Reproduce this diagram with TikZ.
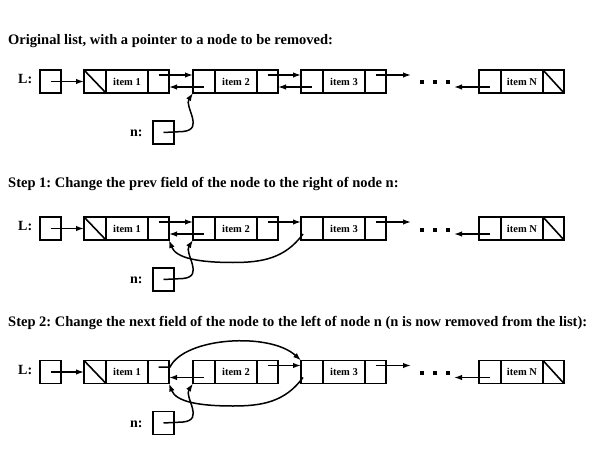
\documentclass[tikz,border=0pt]{standalone}
\usepackage{fontspec}
\setmainfont{Liberation Serif}
\usetikzlibrary{arrows.meta,positioning}
\frenchspacing

% one list node: prev | item | next
\newcommand{\dllnode}[3]{%
  \node[cell, minimum width=22pt] (#1p) at (#2,0) {};
  \node[itemcell, right=0pt of #1p] (#1d) {#3};
  \node[cell, minimum width=21pt, right=0pt of #1d] (#1n) {};
}

% what every row has in common
\newcommand{\listbase}{%
  \node[lbl, anchor=base west] (Llbl) at (18,2) {L:};
  \node[cell, minimum width=21pt] (L) at (40,0) {};
  \dllnode{1}{84}{item 1}
  \dllnode{2}{193}{item 2}
  \dllnode{3}{301}{item 3}
  \dllnode{N}{479}{item N}
  \draw[line width=1.6pt] (1p.north west) -- (1p.south east);
  \draw[line width=1.6pt] (Nn.north west) -- (Nn.south east);
  \foreach \x in {422,435,448} \fill (\x-2,-1) rectangle (\x+2,3);
  \coordinate (toDots) at (411,-6.5);
  \coordinate (fromDots) at (454,5.5);
  \node[lbl, anchor=base west] (nlbl) at (130,55) {n:};
  \node[cell, minimum width=21pt] (n) at (153,51) {};
  \draw[ptr] (L.center) -- (1p.west);
  \draw[ptr] ([yshift=-5.5pt]2p.center) -- ([yshift=-5.5pt]1n.east);
  \draw[ptr] ([yshift=6.5pt]2n.center) -- ([yshift=6.5pt]3p.west);
  \draw[ptr] ([yshift=6.5pt]3n.center) -- (toDots);
  \draw[ptr] ([yshift=-5.5pt]Np.center) -- (fromDots);
  \draw[ptr] (n.center) -- (183,50) .. controls (205,48) and (184,25) .. (2p.south west);
}

\begin{document}
\begin{tikzpicture}[
    x=1pt, y=-1pt,
    cell/.style={draw, line width=1.6pt, minimum height=23pt, inner sep=0pt, outer sep=0pt, anchor=west},
    itemcell/.style={cell, minimum width=42pt, font=\bfseries\fontsize{10.5}{12}\selectfont},
    lbl/.style={inner sep=0pt, font=\bfseries\fontsize{14}{16}\selectfont},
    title/.style={inner sep=0pt, anchor=base west, font=\bfseries\fontsize{14.5}{16}\selectfont},
    ptr/.style={line width=1.5pt, -{Latex[length=8pt,width=5.5pt]}}
  ]
  \useasboundingbox (0,0) rectangle (599,457);

  \node[title] (t0) at (8,45) {Original list, with a pointer to a node to be removed:};
  \begin{scope}[shift={(0,81.5)}, name prefix=a-]
    \listbase
    \draw[ptr] ([yshift=6.5pt]1n.center) -- ([yshift=6.5pt]2p.west);
    \draw[ptr] ([yshift=-5.5pt]3p.center) -- ([yshift=-5.5pt]2n.east);
  \end{scope}

  \node[title] (t1) at (8,187) {Step 1: Change the prev field of the node to the right of node n:};
  \begin{scope}[shift={(0,228.5)}, name prefix=b-]
    \listbase
    \draw[ptr] ([yshift=6.5pt]1n.center) -- ([yshift=6.5pt]2p.west);
    \draw[ptr] ([xshift=2pt,yshift=-5.5pt]3p.west) .. controls (285,30) and (262,34) .. (233,34)
      .. controls (200,34) and (176,30) .. (1n.south east);
  \end{scope}

  \node[title] (t2) at (8,326) {Step 2: Change the next field of the node to the left of node n (n is now removed from the list):};
  \begin{scope}[shift={(0,372)}, name prefix=c-]
    \listbase
    \draw[ptr] ([yshift=5pt]1n.center) -- (170,-5) .. controls (185,-35) and (270,-40) .. (3p.north west);
    \draw[ptr] ([xshift=2pt,yshift=-5.5pt]3p.west) .. controls (285,30) and (262,34) .. (233,34)
      .. controls (200,34) and (176,30) .. (1n.south east);
  \end{scope}
\end{tikzpicture}
\end{document}
